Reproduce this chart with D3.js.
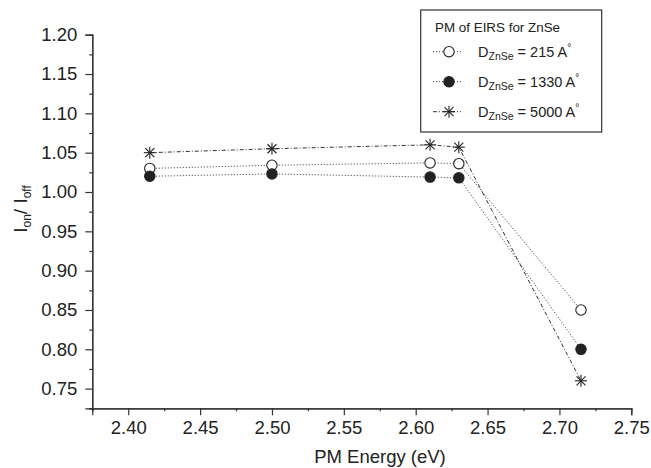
<!DOCTYPE html>
<html>
<head>
<meta charset="utf-8">
<script src="https://cdn.jsdelivr.net/npm/d3@7"></script>
<style>
  body { margin: 0; background: #fff; }
  text { font-family: "Liberation Sans", Arial, sans-serif; fill: #222; }
</style>
</head>
<body>
<div id="chart"></div>
<script>
// data
var energy = [2.415, 2.50, 2.61, 2.63, 2.715];
var d215 = [1.030, 1.034, 1.037, 1.036, 0.850];
var d1330 = [1.020, 1.023, 1.019, 1.018, 0.800];
var d5000 = [1.050, 1.055, 1.060, 1.057, 0.760];
var seriesNames = ["215", "1330", "5000"];
var xTicks = [2.40, 2.45, 2.50, 2.55, 2.60, 2.65, 2.70, 2.75];
var yTicks = [0.75, 0.80, 0.85, 0.90, 0.95, 1.00, 1.05, 1.10, 1.15, 1.20];

var width = 651, height = 468;
var margin = {top: 34.7, right: 20, bottom: 59.7, left: 92.3};

var svg = d3.select("#chart").append("svg")
  .attr("width", width)
  .attr("height", height);

var x = d3.scaleLinear().domain([2.375, 2.75]).range([margin.left, 631.3]);
var y = d3.scaleLinear().domain([0.725, 1.20]).range([408.3, margin.top]);

// minor ticks sit half way between the major ones
var xMinor = d3.range(2.375, 2.76, 0.05).map(function(v) { return +v.toFixed(3); });
var yMinor = d3.range(0.725, 1.20, 0.05).map(function(v) { return +v.toFixed(3); });

var axisColor = "#333";

// x axis
var gx = svg.append("g").attr("transform", "translate(0," + y(0.725) + ")");
gx.append("g")
  .call(d3.axisBottom(x).tickValues(xMinor).tickSize(3).tickFormat(""));
gx.append("g")
  .call(d3.axisBottom(x).tickValues(xTicks).tickSize(7).tickPadding(6)
    .tickFormat(d3.format(".2f")));
gx.selectAll("path, line").attr("stroke", axisColor).attr("stroke-width", 1.2);
gx.selectAll("text").style("font-size", "18.5px").attr("fill", "#222");

// y axis
var gy = svg.append("g").attr("transform", "translate(" + x(2.375) + ",0)");
gy.append("g")
  .call(d3.axisLeft(y).tickValues(yMinor).tickSize(3).tickFormat(""));
gy.append("g")
  .call(d3.axisLeft(y).tickValues(yTicks).tickSize(7).tickPadding(8)
    .tickFormat(d3.format(".2f")));
gy.selectAll("path, line").attr("stroke", axisColor).attr("stroke-width", 1.2);
gy.selectAll("text").style("font-size", "18.5px").attr("fill", "#222");

// axis titles
svg.append("text")
  .attr("x", 380)
  .attr("y", 463)
  .attr("text-anchor", "middle")
  .style("font-size", "18.5px")
  .text("PM Energy (eV)");

var yt = svg.append("text")
  .attr("transform", "translate(27,209) rotate(-90)")
  .attr("text-anchor", "middle")
  .style("font-size", "19px");
yt.append("tspan").text("I");
yt.append("tspan").attr("dy", 4).style("font-size", "12px").text("on");
yt.append("tspan").attr("dy", -4).text("/ I");
yt.append("tspan").attr("dy", 4).style("font-size", "12px").text("off");

// series
var series = [
  {name: seriesNames[0], values: d215, dash: "1,2", marker: "open"},
  {name: seriesNames[1], values: d1330, dash: "1,2", marker: "filled"},
  {name: seriesNames[2], values: d5000, dash: "4,2,1,2", marker: "star"}
];

var line = d3.line()
  .x(function(d) { return x(d.e); })
  .y(function(d) { return y(d.v); });

function drawMarker(g, type, cx, cy) {
  if (type === "star") {
    var r = 6;
    var s = g.append("g").attr("transform", "translate(" + cx + "," + cy + ")")
      .attr("stroke", "#222").attr("stroke-width", 1.1);
    [[0, -r, 0, r], [-r, 0, r, 0], [-r * 0.75, -r * 0.75, r * 0.75, r * 0.75], [-r * 0.75, r * 0.75, r * 0.75, -r * 0.75]]
      .forEach(function(p) {
        s.append("line").attr("x1", p[0]).attr("y1", p[1]).attr("x2", p[2]).attr("y2", p[3]);
      });
  } else {
    g.append("circle")
      .attr("cx", cx).attr("cy", cy).attr("r", 5.2)
      .attr("fill", type === "filled" ? "#222" : "#fff")
      .attr("stroke", "#222").attr("stroke-width", 1.1);
  }
}

series.forEach(function(s) {
  var pts = energy.map(function(e, i) { return {e: e, v: s.values[i]}; });
  var g = svg.append("g");
  g.append("path")
    .datum(pts)
    .attr("d", line)
    .attr("fill", "none")
    .attr("stroke", "#333")
    .attr("stroke-width", 1)
    .attr("stroke-dasharray", s.dash);
  pts.forEach(function(p) { drawMarker(g, s.marker, x(p.e), y(p.v)); });
});

// legend
var lg = svg.append("g");
lg.append("rect")
  .attr("x", 420.7).attr("y", 10)
  .attr("width", 181).attr("height", 122)
  .attr("fill", "#fff").attr("stroke", "#333").attr("stroke-width", 1.2);
lg.append("text")
  .attr("x", 435).attr("y", 32)
  .style("font-size", "13.4px")
  .text("PM of EIRS for ZnSe");

series.forEach(function(s, i) {
  var ly = 51.7 + i * 30;
  lg.append("line")
    .attr("x1", 433).attr("x2", 461).attr("y1", ly).attr("y2", ly)
    .attr("stroke", "#333").attr("stroke-width", 1)
    .attr("stroke-dasharray", s.dash);
  drawMarker(lg, s.marker, 449, ly);
  var t = lg.append("text")
    .attr("x", 478).attr("y", ly + 5)
    .style("font-size", "14.5px");
  t.append("tspan").text("D");
  t.append("tspan").attr("dy", 3).style("font-size", "10.5px").text("ZnSe");
  t.append("tspan").attr("dy", -3).text(" = " + s.name + " A");
  t.append("tspan").attr("dy", -6).style("font-size", "10px").text("°");
});
</script>
</body>
</html>
